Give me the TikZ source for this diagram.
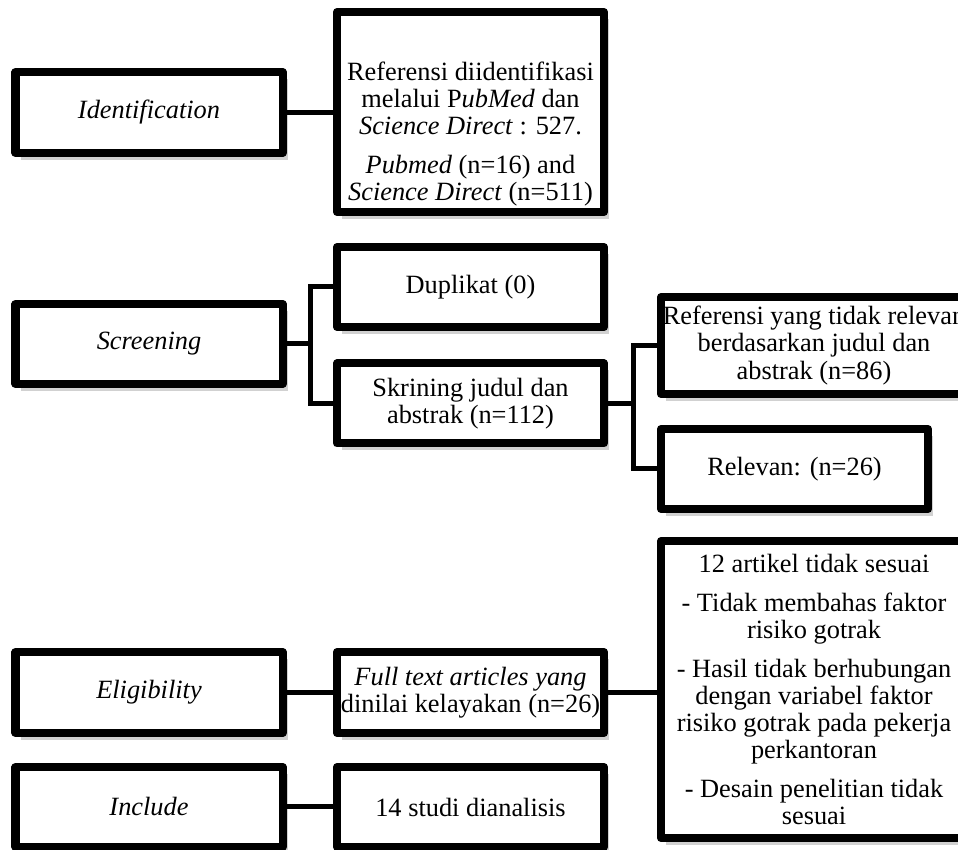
\documentclass[tikz,border=0pt]{standalone}
\usepackage{fontspec}
\setmainfont{Liberation Serif}
\usetikzlibrary{shadows, positioning, calc}

\begin{document}
\begin{tikzpicture}[
  box/.style={draw, line width=0.16cm, line join=round, fill=white, inner xsep=0pt, inner ysep=0pt,
    align=center, font=\fontsize{15pt}{15.4pt}\selectfont, minimum width=5.34cm, minimum height=1.6cm,
    drop shadow={shadow xshift=0.1cm, shadow yshift=-0.14cm, opacity=0.3, fill=black!60}},
  wide/.style={box, minimum width=6.12cm},
  link/.style={line width=0.1cm}]
\useasboundingbox (0,0) rectangle (19.16,17);
\clip (0,0) rectangle (19.16,17);
\node[box, minimum height=1.62cm] (ident) at (2.98,14.75) {\textit{Identification}};
\node[box, minimum height=4cm] (ref) at (9.41,14.76) {\rule{0pt}{1.25cm}Referensi diidentifikasi\\ melalui P\textit{ubMed} dan\\ \textit{Science Direct} : 527.\\[6.8pt] \textit{Pubmed} (n=16) and\\ \textit{Science Direct} (n=511)};
\node[box] (scr) at (2.98,10.12) {\textit{Screening}};
\node[box] (dup) at (9.41,11.26) {Duplikat (0)};
\node[box] (skr) at (9.41,8.93) {Skrining judul dan\\ abstrak (n=112)};
\node[wide, minimum height=1.94cm] (irr) at (16.28,10.09) {Referensi yang tidak relevan\\ berdasarkan judul dan\\ abstrak (n=86)};
\node[box] (rel) at (15.89,7.62) {Relevan: (n=26)};
\node[box, minimum height=1.62cm] (elig) at (2.98,3.15) {\textit{Eligibility}};
\node[box, minimum height=1.62cm] (full) at (9.41,3.15) {\textit{Full text articles yang}\\ dinilai kelayakan (n=26)};
\node[wide, minimum height=5.94cm] (excl) at (16.28,3.21) {12 artikel tidak sesuai\\[6.8pt] - Tidak membahas faktor\\ risiko gotrak\\[6.8pt] - Hasil tidak berhubungan\\ dengan variabel faktor\\ risiko gotrak pada pekerja\\ perkantoran\\[6.8pt] - Desain penelitian tidak\\ sesuai};
\node[box] (incl) at (2.98,0.86) {\textit{Include}};
\node[box] (stud) at (9.41,0.86) {14 studi dianalisis};
\draw[link] (ident.east) -- (ident.east -| ref.west);
\draw[link] (scr.east) -- ++(0.47,0) |- (dup.west);
\draw[link] (scr.east) -- ++(0.47,0) |- (skr.west);
\draw[link] (skr.east) -- ++(0.51,0) |- (irr.west);
\draw[link] (skr.east) -- ++(0.51,0) |- (rel.west);
\draw[link] (elig) -- (full);
\draw[link] (full.east) -- (full.east -| excl.west);
\draw[link] (incl) -- (stud);
\end{tikzpicture}
\end{document}
